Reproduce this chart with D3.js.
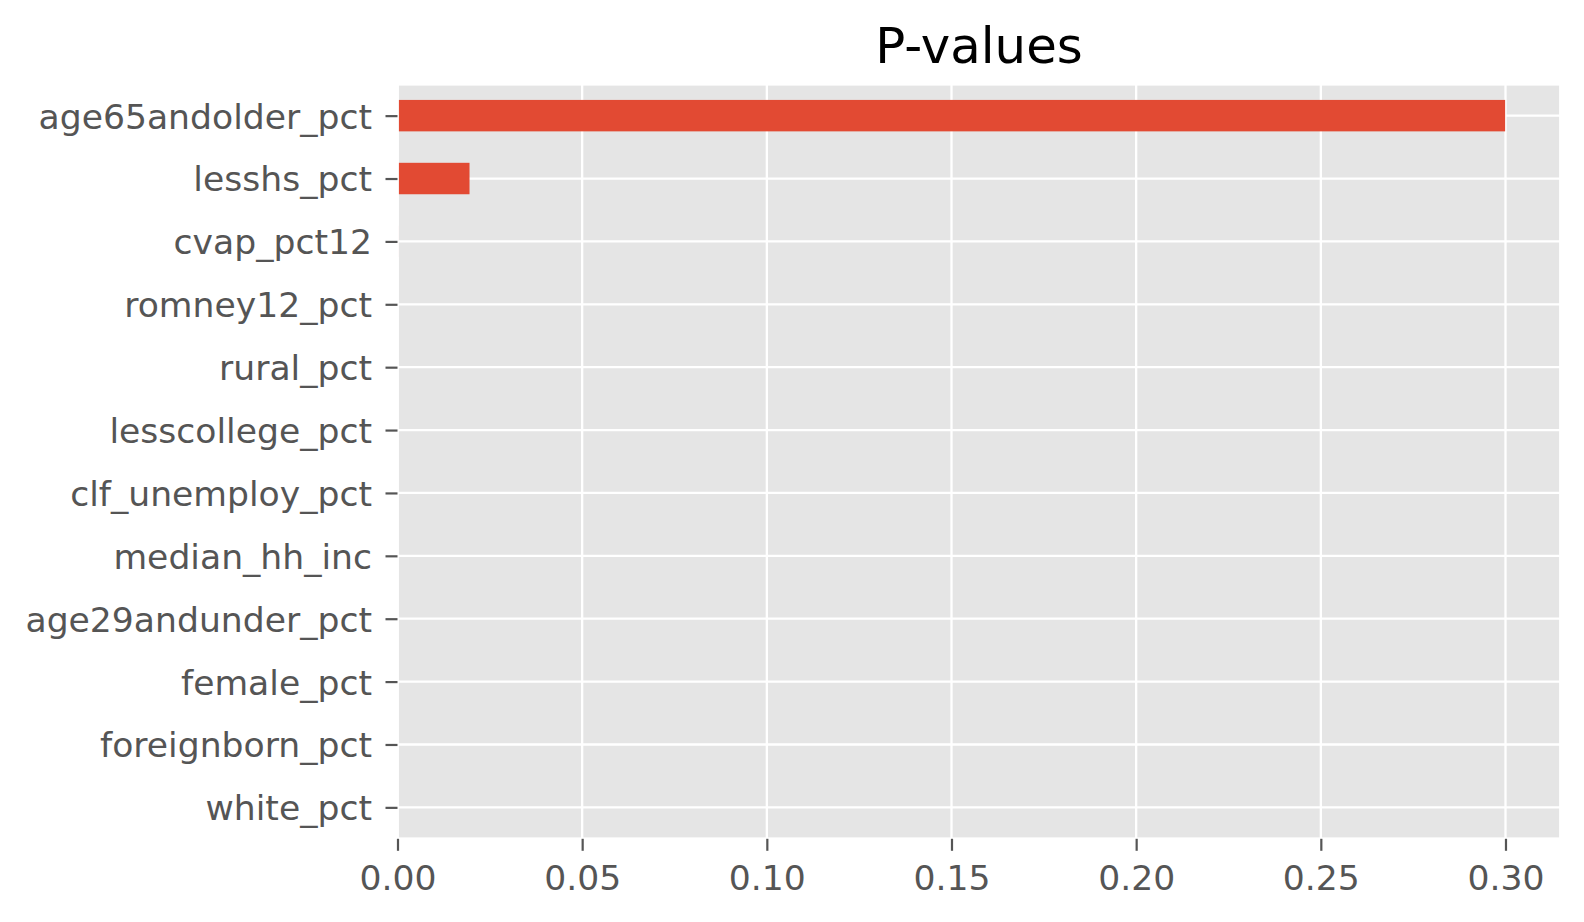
<!DOCTYPE html>
<html>
<head>
<meta charset="utf-8">
<script src="https://cdn.jsdelivr.net/npm/d3@7"></script>
<style>
  html, body { margin: 0; padding: 0; background: #fff; }
  svg { display: block; }
  text { font-family: "DejaVu Sans", sans-serif; }
</style>
</head>
<body>
<script>
// Categories listed bottom to top (as in the original pandas barh order)
const categories = [
  "white_pct", "foreignborn_pct", "female_pct", "age29andunder_pct",
  "median_hh_inc", "clf_unemploy_pct", "lesscollege_pct", "rural_pct",
  "romney12_pct", "cvap_pct12", "lesshs_pct", "age65andolder_pct"
];
const pvalues = [
  0.0, 0.0, 0.0, 0.0,
  0.0, 0.0, 0.0, 0.0,
  0.0001, 0.0002, 0.0195, 0.2999
];
const xTicks = [0.00, 0.05, 0.10, 0.15, 0.20, 0.25, 0.30];
const title = "P-values";

const W = 1584, H = 922;
const ax = { x0: 397.5, x1: 1560.5, y0: 84.2, y1: 838.8 };
const tickFont = 34.6, titleFont = 49.8;

const svg = d3.select("body").append("svg")
  .attr("width", W).attr("height", H);

const xMax = d3.max(pvalues) * 1.05;
const x = d3.scaleLinear().domain([0, xMax]).range([ax.x0, ax.x1]);
const y = d3.scaleLinear().domain([-0.5, categories.length - 0.5]).range([ax.y1, ax.y0]);
const barH = 0.5;

// background
svg.append("rect")
  .attr("x", ax.x0).attr("y", ax.y0)
  .attr("width", ax.x1 - ax.x0).attr("height", ax.y1 - ax.y0)
  .attr("fill", "#E5E5E5");

// grid
const g = svg.append("g");
g.selectAll("line.vg").data(xTicks).join("line")
  .attr("x1", d => x(d)).attr("x2", d => x(d))
  .attr("y1", ax.y0).attr("y2", ax.y1)
  .attr("stroke", "#fff").attr("stroke-width", 2.3);
g.selectAll("line.hg").data(categories).join("line")
  .attr("x1", ax.x0).attr("x2", ax.x1)
  .attr("y1", (d, i) => y(i)).attr("y2", (d, i) => y(i))
  .attr("stroke", "#fff").attr("stroke-width", 2.3);

// bars
svg.append("g").selectAll("rect").data(pvalues).join("rect")
  .attr("x", x(0))
  .attr("y", (d, i) => y(i + barH / 2))
  .attr("width", d => x(d) - x(0))
  .attr("height", (d, i) => y(i - barH / 2) - y(i + barH / 2))
  .attr("fill", "#E24A33");

// spines (white)
svg.append("rect")
  .attr("x", ax.x0).attr("y", ax.y0)
  .attr("width", ax.x1 - ax.x0).attr("height", ax.y1 - ax.y0)
  .attr("fill", "none").attr("stroke", "#fff").attr("stroke-width", 2.8);

// x axis
const xAxis = d3.axisBottom(x).tickValues(xTicks).tickFormat(d3.format(".2f"))
  .tickSize(12).tickPadding(0);
const xg = svg.append("g").attr("transform", `translate(0,${ax.y1})`).call(xAxis);
xg.select(".domain").remove();
xg.selectAll(".tick line").attr("stroke", "#555555").attr("stroke-width", 2.2);
xg.selectAll(".tick text")
  .attr("fill", "#555555").attr("font-size", tickFont + "px")
  .attr("font-family", "DejaVu Sans")
  .attr("dy", null).attr("y", 51);

// y axis
const yAxis = d3.axisLeft(y).tickValues(d3.range(categories.length))
  .tickFormat(i => categories[i]).tickSize(12).tickPadding(0);
const yg = svg.append("g").attr("transform", `translate(${ax.x0},0)`).call(yAxis);
yg.select(".domain").remove();
yg.selectAll(".tick line").attr("stroke", "#555555").attr("stroke-width", 2.2);
yg.selectAll(".tick text")
  .attr("fill", "#555555").attr("font-size", tickFont + "px")
  .attr("font-family", "DejaVu Sans")
  .attr("x", -25.5).attr("dy", "0.36em");

// title
svg.append("text")
  .attr("x", (ax.x0 + ax.x1) / 2).attr("y", 63)
  .attr("text-anchor", "middle")
  .attr("font-size", titleFont + "px").attr("fill", "#000")
  .text(title);
</script>
</body>
</html>
